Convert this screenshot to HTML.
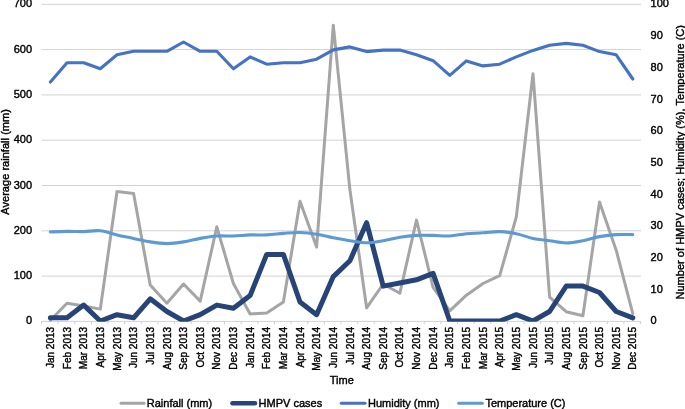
<!DOCTYPE html>
<html lang="en"><head><meta charset="utf-8"><title>HMPV cases and climate</title>
<style>html,body{margin:0;padding:0;background:#fff}svg{display:block}text{font-family:"Liberation Sans",sans-serif;fill:#000;stroke:#000;stroke-width:0.4px}</style></head><body>
<svg width="685" height="409" viewBox="0 0 685 409">
<rect width="685" height="409" fill="#fff"/>
<g stroke="#d2d2d2" stroke-width="1" fill="none"><line x1="41.0" y1="321.40" x2="641.0" y2="321.40"/><line x1="41.5" y1="276.10" x2="641.0" y2="276.10"/><line x1="41.5" y1="230.80" x2="641.0" y2="230.80"/><line x1="41.5" y1="185.50" x2="641.0" y2="185.50"/><line x1="41.5" y1="140.20" x2="641.0" y2="140.20"/><line x1="41.5" y1="94.90" x2="641.0" y2="94.90"/><line x1="41.5" y1="49.60" x2="641.0" y2="49.60"/><line x1="41.5" y1="4.30" x2="641.0" y2="4.30"/></g>
<g stroke="#cfcfcf" stroke-width="1"><line x1="41.50" y1="321.4" x2="41.50" y2="324.2"/><line x1="58.14" y1="321.4" x2="58.14" y2="324.2"/><line x1="74.78" y1="321.4" x2="74.78" y2="324.2"/><line x1="91.42" y1="321.4" x2="91.42" y2="324.2"/><line x1="108.06" y1="321.4" x2="108.06" y2="324.2"/><line x1="124.70" y1="321.4" x2="124.70" y2="324.2"/><line x1="141.34" y1="321.4" x2="141.34" y2="324.2"/><line x1="157.98" y1="321.4" x2="157.98" y2="324.2"/><line x1="174.62" y1="321.4" x2="174.62" y2="324.2"/><line x1="191.26" y1="321.4" x2="191.26" y2="324.2"/><line x1="207.90" y1="321.4" x2="207.90" y2="324.2"/><line x1="224.54" y1="321.4" x2="224.54" y2="324.2"/><line x1="241.18" y1="321.4" x2="241.18" y2="324.2"/><line x1="257.82" y1="321.4" x2="257.82" y2="324.2"/><line x1="274.46" y1="321.4" x2="274.46" y2="324.2"/><line x1="291.10" y1="321.4" x2="291.10" y2="324.2"/><line x1="307.74" y1="321.4" x2="307.74" y2="324.2"/><line x1="324.38" y1="321.4" x2="324.38" y2="324.2"/><line x1="341.02" y1="321.4" x2="341.02" y2="324.2"/><line x1="357.66" y1="321.4" x2="357.66" y2="324.2"/><line x1="374.30" y1="321.4" x2="374.30" y2="324.2"/><line x1="390.94" y1="321.4" x2="390.94" y2="324.2"/><line x1="407.58" y1="321.4" x2="407.58" y2="324.2"/><line x1="424.22" y1="321.4" x2="424.22" y2="324.2"/><line x1="440.86" y1="321.4" x2="440.86" y2="324.2"/><line x1="457.50" y1="321.4" x2="457.50" y2="324.2"/><line x1="474.14" y1="321.4" x2="474.14" y2="324.2"/><line x1="490.78" y1="321.4" x2="490.78" y2="324.2"/><line x1="507.42" y1="321.4" x2="507.42" y2="324.2"/><line x1="524.06" y1="321.4" x2="524.06" y2="324.2"/><line x1="540.70" y1="321.4" x2="540.70" y2="324.2"/><line x1="557.34" y1="321.4" x2="557.34" y2="324.2"/><line x1="573.98" y1="321.4" x2="573.98" y2="324.2"/><line x1="590.62" y1="321.4" x2="590.62" y2="324.2"/><line x1="607.26" y1="321.4" x2="607.26" y2="324.2"/><line x1="623.90" y1="321.4" x2="623.90" y2="324.2"/><line x1="640.54" y1="321.4" x2="640.54" y2="324.2"/></g>
<text x="32.0" y="324.4" font-size="11" text-anchor="end">0</text>
<text x="32.0" y="279.1" font-size="11" text-anchor="end">100</text>
<text x="32.0" y="233.8" font-size="11" text-anchor="end">200</text>
<text x="32.0" y="188.5" font-size="11" text-anchor="end">300</text>
<text x="32.0" y="143.3" font-size="11" text-anchor="end">400</text>
<text x="32.0" y="98.0" font-size="11" text-anchor="end">500</text>
<text x="32.0" y="52.7" font-size="11" text-anchor="end">600</text>
<text x="32.0" y="7.4" font-size="11" text-anchor="end">700</text>
<text x="650.6" y="324.4" font-size="11">0</text>
<text x="650.6" y="292.7" font-size="11">10</text>
<text x="650.6" y="261.0" font-size="11">20</text>
<text x="650.6" y="229.3" font-size="11">30</text>
<text x="650.6" y="197.6" font-size="11">40</text>
<text x="650.6" y="165.9" font-size="11">50</text>
<text x="650.6" y="134.2" font-size="11">60</text>
<text x="650.6" y="102.5" font-size="11">70</text>
<text x="650.6" y="70.8" font-size="11">80</text>
<text x="650.6" y="39.1" font-size="11">90</text>
<text x="650.6" y="7.4" font-size="11">100</text>
<defs><clipPath id="pc"><rect x="0" y="0" width="685" height="321.7"/></clipPath></defs><g clip-path="url(#pc)">
<polyline points="50.4,320.3 67.0,303.2 83.7,306.0 100.3,309.1 117.0,191.5 133.6,193.5 150.2,285.0 166.9,303.2 183.5,284.0 200.2,301.1 216.8,226.8 233.4,283.5 250.1,314.0 266.7,312.9 283.4,301.9 300.0,201.3 316.6,247.1 333.3,25.2 349.9,189.6 366.6,307.8 383.2,284.0 399.8,293.3 416.5,220.1 433.1,287.4 449.8,310.9 466.4,295.2 483.0,283.5 499.7,275.7 516.3,217.0 533.0,73.7 549.6,297.2 566.2,311.7 582.9,315.8 599.5,202.1 616.2,250.2 632.8,313.6" fill="none" stroke="#a5a5a5" stroke-width="3" stroke-linejoin="round" stroke-linecap="round"/>
<polyline points="50.4,317.8 67.0,317.8 83.7,305.1 100.3,321.0 117.0,314.7 133.6,317.8 150.2,298.8 166.9,311.5 183.5,321.0 200.2,314.7 216.8,305.1 233.4,308.3 250.1,295.6 266.7,254.4 283.4,254.4 300.0,302.0 316.6,314.7 333.3,276.6 349.9,260.8 366.6,222.7 383.2,286.1 399.8,283.0 416.5,279.8 433.1,273.4 449.8,321.0 466.4,321.0 483.0,321.0 499.7,321.0 516.3,314.7 533.0,321.0 549.6,311.5 566.2,286.1 582.9,286.1 599.5,292.5 616.2,311.5 632.8,317.8" fill="none" stroke="#264478" stroke-width="5" stroke-linejoin="round" stroke-linecap="round"/>
<polyline points="50.4,82.0 67.0,62.7 83.7,62.7 100.3,68.8 117.0,54.8 133.6,51.3 150.2,51.3 166.9,51.3 183.5,42.0 200.2,51.3 216.8,51.3 233.4,68.8 250.1,56.9 266.7,64.2 283.4,62.7 300.0,62.7 316.6,59.2 333.3,49.9 349.9,46.9 366.6,51.6 383.2,50.1 399.8,50.1 416.5,54.8 433.1,60.7 449.8,75.3 466.4,60.9 483.0,65.9 499.7,64.2 516.3,56.9 533.0,50.4 549.6,45.2 566.2,43.4 582.9,45.2 599.5,51.6 616.2,54.8 632.8,79.0" fill="none" stroke="#4472c4" stroke-width="3.1" stroke-linejoin="round" stroke-linecap="round"/>
<path d="M50.4,231.9C53.2,231.8 61.5,231.5 67.0,231.4C72.6,231.3 78.1,231.7 83.7,231.6C89.2,231.5 94.8,230.2 100.3,230.8C105.9,231.4 111.4,233.6 117.0,234.9C122.5,236.2 128.1,237.2 133.6,238.4C139.1,239.6 144.7,241.0 150.2,241.9C155.8,242.8 161.3,243.6 166.9,243.6C172.4,243.6 178.0,242.8 183.5,241.9C189.1,241.0 194.6,239.4 200.2,238.4C205.7,237.4 211.3,236.4 216.8,236.0C222.3,235.6 227.9,236.2 233.4,236.0C239.0,235.8 244.5,235.1 250.1,234.9C255.6,234.7 261.2,235.2 266.7,234.9C272.3,234.7 277.8,233.8 283.4,233.4C288.9,233.0 294.5,232.3 300.0,232.5C305.5,232.7 311.1,233.4 316.6,234.3C322.2,235.2 327.7,236.7 333.3,237.8C338.8,238.9 344.4,239.9 349.9,240.7C355.5,241.5 361.0,242.8 366.6,242.8C372.1,242.8 377.7,241.6 383.2,240.7C388.7,239.8 394.3,238.1 399.8,237.2C405.4,236.3 410.9,235.7 416.5,235.4C422.0,235.1 427.6,235.3 433.1,235.4C438.7,235.5 444.2,236.3 449.8,236.0C455.3,235.7 460.9,234.2 466.4,233.7C471.9,233.2 477.5,233.2 483.0,232.8C488.6,232.5 494.1,231.4 499.7,231.6C505.2,231.8 510.8,232.6 516.3,233.7C521.9,234.8 527.4,237.2 533.0,238.4C538.5,239.6 544.1,239.9 549.6,240.7C555.1,241.5 560.7,243.0 566.2,243.0C571.8,243.0 577.3,241.8 582.9,240.7C588.4,239.6 594.0,237.6 599.5,236.6C605.1,235.6 610.6,234.9 616.2,234.6C621.7,234.3 630.0,234.6 632.8,234.6" fill="none" stroke="#5b9bd5" stroke-width="3.1" stroke-linejoin="round" stroke-linecap="round"/>
</g>
<text font-size="10" stroke-width="0.45" text-anchor="end" transform="translate(54.0,326.9) rotate(-90)">Jan 2013</text>
<text font-size="10" stroke-width="0.45" text-anchor="end" transform="translate(70.6,326.9) rotate(-90)">Feb 2013</text>
<text font-size="10" stroke-width="0.45" text-anchor="end" transform="translate(87.3,326.9) rotate(-90)">Mar 2013</text>
<text font-size="10" stroke-width="0.45" text-anchor="end" transform="translate(103.9,326.9) rotate(-90)">Apr 2013</text>
<text font-size="10" stroke-width="0.45" text-anchor="end" transform="translate(120.6,326.9) rotate(-90)">May 2013</text>
<text font-size="10" stroke-width="0.45" text-anchor="end" transform="translate(137.2,326.9) rotate(-90)">Jun 2013</text>
<text font-size="10" stroke-width="0.45" text-anchor="end" transform="translate(153.8,326.9) rotate(-90)">Jul 2013</text>
<text font-size="10" stroke-width="0.45" text-anchor="end" transform="translate(170.5,326.9) rotate(-90)">Aug 2013</text>
<text font-size="10" stroke-width="0.45" text-anchor="end" transform="translate(187.1,326.9) rotate(-90)">Sep 2013</text>
<text font-size="10" stroke-width="0.45" text-anchor="end" transform="translate(203.8,326.9) rotate(-90)">Oct 2013</text>
<text font-size="10" stroke-width="0.45" text-anchor="end" transform="translate(220.4,326.9) rotate(-90)">Nov 2013</text>
<text font-size="10" stroke-width="0.45" text-anchor="end" transform="translate(237.0,326.9) rotate(-90)">Dec 2013</text>
<text font-size="10" stroke-width="0.45" text-anchor="end" transform="translate(253.7,326.9) rotate(-90)">Jan 2014</text>
<text font-size="10" stroke-width="0.45" text-anchor="end" transform="translate(270.3,326.9) rotate(-90)">Feb 2014</text>
<text font-size="10" stroke-width="0.45" text-anchor="end" transform="translate(287.0,326.9) rotate(-90)">Mar 2014</text>
<text font-size="10" stroke-width="0.45" text-anchor="end" transform="translate(303.6,326.9) rotate(-90)">Apr 2014</text>
<text font-size="10" stroke-width="0.45" text-anchor="end" transform="translate(320.2,326.9) rotate(-90)">May 2014</text>
<text font-size="10" stroke-width="0.45" text-anchor="end" transform="translate(336.9,326.9) rotate(-90)">Jun 2014</text>
<text font-size="10" stroke-width="0.45" text-anchor="end" transform="translate(353.5,326.9) rotate(-90)">Jul 2014</text>
<text font-size="10" stroke-width="0.45" text-anchor="end" transform="translate(370.2,326.9) rotate(-90)">Aug 2014</text>
<text font-size="10" stroke-width="0.45" text-anchor="end" transform="translate(386.8,326.9) rotate(-90)">Sep 2014</text>
<text font-size="10" stroke-width="0.45" text-anchor="end" transform="translate(403.4,326.9) rotate(-90)">Oct 2014</text>
<text font-size="10" stroke-width="0.45" text-anchor="end" transform="translate(420.1,326.9) rotate(-90)">Nov 2014</text>
<text font-size="10" stroke-width="0.45" text-anchor="end" transform="translate(436.7,326.9) rotate(-90)">Dec 2014</text>
<text font-size="10" stroke-width="0.45" text-anchor="end" transform="translate(453.4,326.9) rotate(-90)">Jan 2015</text>
<text font-size="10" stroke-width="0.45" text-anchor="end" transform="translate(470.0,326.9) rotate(-90)">Feb 2015</text>
<text font-size="10" stroke-width="0.45" text-anchor="end" transform="translate(486.6,326.9) rotate(-90)">Mar 2015</text>
<text font-size="10" stroke-width="0.45" text-anchor="end" transform="translate(503.3,326.9) rotate(-90)">Apr 2015</text>
<text font-size="10" stroke-width="0.45" text-anchor="end" transform="translate(519.9,326.9) rotate(-90)">May 2015</text>
<text font-size="10" stroke-width="0.45" text-anchor="end" transform="translate(536.6,326.9) rotate(-90)">Jun 2015</text>
<text font-size="10" stroke-width="0.45" text-anchor="end" transform="translate(553.2,326.9) rotate(-90)">Jul 2015</text>
<text font-size="10" stroke-width="0.45" text-anchor="end" transform="translate(569.8,326.9) rotate(-90)">Aug 2015</text>
<text font-size="10" stroke-width="0.45" text-anchor="end" transform="translate(586.5,326.9) rotate(-90)">Sep 2015</text>
<text font-size="10" stroke-width="0.45" text-anchor="end" transform="translate(603.1,326.9) rotate(-90)">Oct 2015</text>
<text font-size="10" stroke-width="0.45" text-anchor="end" transform="translate(619.8,326.9) rotate(-90)">Nov 2015</text>
<text font-size="10" stroke-width="0.45" text-anchor="end" transform="translate(636.4,326.9) rotate(-90)">Dec 2015</text>
<text font-size="11" text-anchor="middle" textLength="105.6" lengthAdjust="spacing" transform="translate(8.6,161.9) rotate(-90)">Average rainfall (mm)</text>
<text font-size="11" text-anchor="middle" textLength="274.6" lengthAdjust="spacing" transform="translate(683.6,162.3) rotate(-90)">Number of HMPV cases; Humidity (%), Temperature (C)</text>
<text font-size="11" x="329.8" y="384.4">Time</text>
<line x1="121" y1="403.3" x2="144" y2="403.3" stroke="#a5a5a5" stroke-width="3" stroke-linecap="round"/>
<text font-size="11" x="146.8" y="407.2">Rainfall (mm)</text>
<line x1="232.5" y1="403.3" x2="255" y2="403.3" stroke="#264478" stroke-width="4.6" stroke-linecap="round"/>
<text font-size="11" x="258.6" y="407.2">HMPV cases</text>
<line x1="341.3" y1="403.3" x2="365" y2="403.3" stroke="#4472c4" stroke-width="3.1" stroke-linecap="round"/>
<text font-size="11" x="368" y="407.2">Humidity (mm)</text>
<line x1="458.7" y1="403.3" x2="482.3" y2="403.3" stroke="#5b9bd5" stroke-width="3.1" stroke-linecap="round"/>
<text font-size="11" x="485.4" y="407.2">Temperature (C)</text>
</svg></body></html>
